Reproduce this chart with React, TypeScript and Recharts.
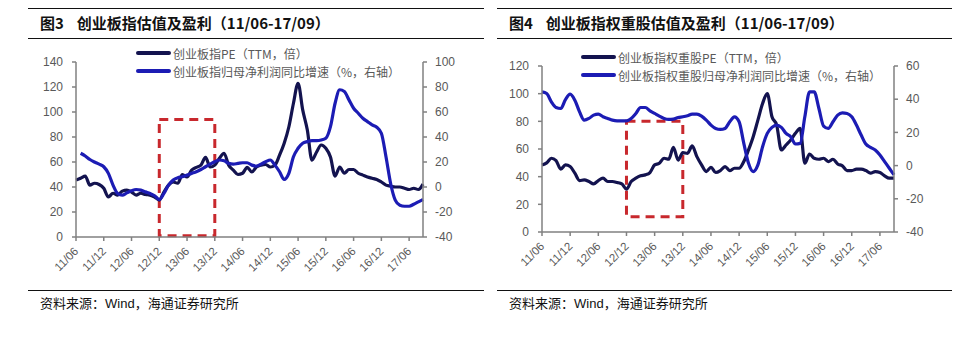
import React from 'react';
import { LineChart, Line, XAxis, YAxis, ReferenceArea } from 'recharts';

const months = [
  '11/06','11/07','11/08','11/09','11/10','11/11','11/12',
  '12/01','12/02','12/03','12/04','12/05','12/06','12/07','12/08','12/09','12/10','12/11','12/12',
  '13/01','13/02','13/03','13/04','13/05','13/06','13/07','13/08','13/09','13/10','13/11','13/12',
  '14/01','14/02','14/03','14/04','14/05','14/06','14/07','14/08','14/09','14/10','14/11','14/12',
  '15/01','15/02','15/03','15/04','15/05','15/06','15/07','15/08','15/09','15/10','15/11','15/12',
  '16/01','16/02','16/03','16/04','16/05','16/06','16/07','16/08','16/09','16/10','16/11','16/12',
  '17/01','17/02','17/03','17/04','17/05','17/06','17/07','17/08','17/09',
];

// 图3: 创业板指
const pe3 = [
  45.5,47,48.7,41.5,43,42,39,
  32,35,33.5,36.7,37.5,36,33.5,35,34,33.5,32,29.5,
  36,41.5,44,43,50,48,53.5,55.7,57.5,63.7,56,57.5,
  63,67,57.5,53.5,50,51,55.7,52,56,57.5,58,56,
  57.5,65.5,75,88,107,123,101.7,85.6,61.5,68,73.6,71,
  64,48.7,56,51,54,54,51,49.5,48,47,46,44,
  41.5,40.7,40,40,39,38,39,38,42.3,
];
const growth3 = [
  null,27,24.8,22,20,18.3,16.2,
  10.9,1.5,-5.2,-6.5,-4.7,-3,-2,-2.5,-3.9,-5.2,-7,-10,
  -5.2,1.5,5.5,7.4,8.2,9.5,10.9,12.2,14,16.2,18.3,20.2,
  21.6,21,18.9,18.3,18.9,19.4,19.4,17.5,16.7,18.3,20.2,21.6,
  17.5,12.2,6,10.9,24.2,31,35,36.3,37.1,37.1,37.6,39,
  48.3,67,77.8,76.4,69.7,63,59,55,52.3,49.7,47.8,43,
  24.2,2.8,-10.5,-14.6,-15.4,-15.4,-13.8,-11.9,-10,
];

// 图4: 创业板指权重股
const pe4 = [
  48.5,50,53.3,51.6,45.4,48.5,47.3,
  42.5,37.2,37.7,36.5,34.8,37.2,38.9,36.5,36.5,35.8,34.8,31,
  36.5,38.9,40.6,41.3,43,48.5,49.7,53.3,52.6,61.2,52,57.4,
  56.9,62.2,54.5,48.5,43.7,46.8,43,44.4,47.3,44.4,46.1,46.1,
  50.9,59.3,68.9,80.9,92.9,100,83.3,77.3,59.3,62.9,66.5,71.3,
  74.9,49.7,56.4,53.3,52.6,53.3,50.9,52.6,49.2,47.8,44.4,44.4,
  45.4,45.4,44.4,42.5,43.7,43,40.6,38.9,38.9,
];
const growth4 = [
  44.4,43.4,38.4,35,34.4,39.8,43,
  39.4,32.4,27.4,28.4,30.4,31,29.4,28.4,27.4,27,27,27,
  28.4,31.4,35,35,33,31.4,29.8,28.4,27.8,28,29,29.4,
  30,31,31,29.8,27.4,24.4,22.4,21.8,22.4,26.4,29.4,26.4,
  13.4,1.4,-3.6,0.4,11.4,19.4,23,24.4,23,19.4,17.4,13,
  13.4,29.4,44.4,44.4,34.4,23.8,22.4,26.4,30.4,31.8,31.4,29.4,
  24.4,18.4,13,11,9.4,6.4,2.4,-1.6,-5.6,
];

const leftTicks3 = [0, 20, 40, 60, 80, 100, 120, 140];
const rightTicks3 = [-40, -20, 0, 20, 40, 60, 80, 100];
const leftTicks4 = [0, 20, 40, 60, 80, 100, 120];
const rightTicks4 = [-40, -20, 0, 20, 40, 60];

const box3 = { from: '12/12', to: '13/12', low: 1, high: 94 };
const box4 = { from: '12/12', to: '13/12', low: 11, high: 80 };

const NAVY = '#13134f';
const BLUE = '#1c1cb4';
const AXIS = '#808080';
const TICK_TEXT = '#595959';
const RED = '#c8282d';
const CJK = '"Noto Sans CJK SC", "Noto Sans", sans-serif';
const NUM = '"Liberation Sans", Arial, sans-serif';

const XTick = (props: any) => {
  const { x, y, payload } = props;
  return (
    <text
      x={x + 3}
      y={y + 9}
      transform={`rotate(-45, ${x + 3}, ${y + 9})`}
      textAnchor="end"
      fill={TICK_TEXT}
      fontSize={11.5}
      fontFamily={NUM}
    >
      {payload.value}
    </text>
  );
};

type PanelProps = {
  offset: number;
  figNo: string;
  title: string;
  legend1: string;
  legend2: string;
  pe: (number | null)[];
  growth: (number | null)[];
  leftTicks: number[];
  rightTicks: number[];
  box: { from: string; to: string; low: number; high: number };
  margin: { top: number; right: number; bottom: number; left: number };
  ruleX: [number, number];
  textX: number;
  legendX: number;
  legendY: [number, number];
};

const Panel = (p: PanelProps) => {
  const data = months.map((m, i) => ({ m, pe: p.pe[i], g: p.growth[i] }));
  const rule = (y: number) => (
    <div
      style={{
        position: 'absolute',
        left: p.ruleX[0],
        width: p.ruleX[1] - p.ruleX[0],
        top: y,
        height: 1.5,
        background: '#111',
      }}
    />
  );
  const legendRow = (y: number, color: string, label: string) => (
    <div style={{ position: 'absolute', left: p.legendX, top: y - 9, height: 18, display: 'flex', alignItems: 'center' }}>
      <div style={{ width: 35, height: 4, background: color, borderRadius: 2 }} />
      <span style={{ marginLeft: 2, fontFamily: CJK, fontSize: 12, color: TICK_TEXT, whiteSpace: 'nowrap' }}>{label}</span>
    </div>
  );
  return (
    <div style={{ position: 'absolute', left: p.offset, top: 0, width: 489, height: 355 }}>
      {rule(7.5)}
      <div
        style={{
          position: 'absolute',
          left: p.textX,
          top: 13,
          fontFamily: CJK,
          fontWeight: 700,
          fontSize: 15,
          color: '#111',
          whiteSpace: 'pre',
          lineHeight: '20px',
        }}
      >
        {p.figNo}
        <span style={{ marginLeft: 13 }}>{p.title}</span>
      </div>
      {rule(37.5)}
      <div style={{ position: 'absolute', left: 0, top: 0 }}>
        <LineChart width={489} height={290} data={data} margin={p.margin}>
          <XAxis
            dataKey="m"
            interval={5}
            tick={<XTick />}
            tickSize={4}
            tickMargin={2}
            height={40}
            stroke={AXIS}
            strokeWidth={1.5}
          />
          <YAxis
            yAxisId="left"
            domain={[p.leftTicks[0], p.leftTicks[p.leftTicks.length - 1]]}
            ticks={p.leftTicks}
            interval={0}
            width={40}
            tickSize={4}
            tickMargin={9}
            stroke={AXIS}
            strokeWidth={1.5}
            tick={{ fill: TICK_TEXT, fontSize: 12, fontFamily: NUM }}
          />
          <YAxis
            yAxisId="right"
            orientation="right"
            domain={[p.rightTicks[0], p.rightTicks[p.rightTicks.length - 1]]}
            ticks={p.rightTicks}
            interval={0}
            width={40}
            tickSize={4}
            tickMargin={8}
            stroke={AXIS}
            strokeWidth={1.5}
            tick={{ fill: TICK_TEXT, fontSize: 12, fontFamily: NUM }}
          />
          <ReferenceArea
            yAxisId="left"
            x1={p.box.from}
            x2={p.box.to}
            y1={p.box.low}
            y2={p.box.high}
            fill="none"
            fillOpacity={0}
            stroke={RED}
            strokeWidth={3}
            strokeDasharray="9 6"
          />
          <Line
            yAxisId="left"
            dataKey="pe"
            type="monotone"
            stroke={NAVY}
            strokeWidth={3.2}
            dot={false}
            isAnimationActive={false}
            connectNulls
          />
          <Line
            yAxisId="right"
            dataKey="g"
            type="monotone"
            stroke={BLUE}
            strokeWidth={3.2}
            dot={false}
            isAnimationActive={false}
            connectNulls
          />
        </LineChart>
      </div>
      {legendRow(p.legendY[0], NAVY, p.legend1)}
      {legendRow(p.legendY[1], BLUE, p.legend2)}
      {rule(289.5)}
      <div
        style={{
          position: 'absolute',
          left: p.textX,
          top: 294,
          fontFamily: CJK,
          fontSize: 13,
          color: '#111',
          whiteSpace: 'nowrap',
          lineHeight: '18px',
        }}
      >
        资料来源：<span style={{ fontFamily: NUM }}>Wind</span>，海通证券研究所
      </div>
    </div>
  );
};

export default function App() {
  return (
    <div style={{ position: 'absolute', left: 0, top: 0, width: 978, height: 355, background: '#fff', overflow: 'hidden' }}>
      <Panel
        offset={0}
        figNo="图3"
        title="创业板指估值及盈利（11/06-17/09）"
        legend1="创业板指PE（TTM，倍）"
        legend2="创业板指归母净利润同比增速（%，右轴）"
        pe={pe3}
        growth={growth3}
        leftTicks={leftTicks3}
        rightTicks={rightTicks3}
        box={box3}
        margin={{ top: 62, right: 26, bottom: 13, left: 36 }}
        ruleX={[28, 484]}
        textX={40}
        legendX={136}
        legendY={[53, 71]}
      />
      <Panel
        offset={489}
        figNo="图4"
        title="创业板指权重股估值及盈利（11/06-17/09）"
        legend1="创业板指权重股PE（TTM，倍）"
        legend2="创业板指权重股归母净利润同比增速（%，右轴）"
        pe={pe4}
        growth={growth4}
        leftTicks={leftTicks4}
        rightTicks={rightTicks4}
        box={box4}
        margin={{ top: 66, right: 44, bottom: 18, left: 13 }}
        ruleX={[8, 463]}
        textX={20}
        legendX={92}
        legendY={[57, 75]}
      />
    </div>
  );
}
